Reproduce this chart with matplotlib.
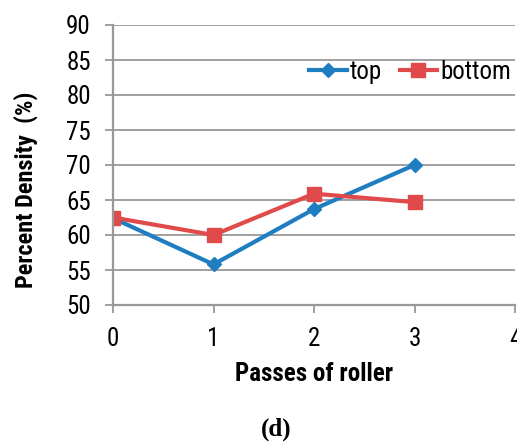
import matplotlib.pyplot as plt

passes = [0, 1, 2, 3]
top = [62.4, 55.8, 63.7, 70.0]
bottom = [62.5, 60.0, 65.9, 64.7]

font = 'Roboto Condensed'
grey = '#999999'

fig = plt.figure(figsize=(5.17, 4.42), dpi=100)
ax = fig.add_axes([113 / 517, 137 / 442, 402 / 517, 280 / 442])

ax.plot(passes, top, color='#1F7EC1', lw=3, marker='D', markersize=7.5, label='top')
ax.plot(passes, bottom, color='#E04A4A', lw=3, marker='s', markersize=10, label='bottom')

ax.set_xlim(0, 4)
ax.set_ylim(50, 90)
ax.set_xticks([0, 1, 2, 3, 4])
ax.set_yticks(range(50, 91, 5))
ax.grid(axis='y', color=grey, lw=1.3)
ax.set_axisbelow(True)
for s in ['top', 'right']:
    ax.spines[s].set_visible(False)
for s in ['left', 'bottom']:
    ax.spines[s].set_color(grey)
    ax.spines[s].set_linewidth(1.6)
ax.tick_params(colors=grey, length=6, width=1.3, labelcolor='black', labelsize=18, pad=10)
for lbl in ax.get_xticklabels() + ax.get_yticklabels():
    lbl.set_fontfamily(font)

fig.text(26 / 517, 1 - 190 / 442, 'Percent Density  (%)', rotation=90, ha='center', va='center',
         fontsize=17.5, fontweight='bold', family=font)
fig.text(314 / 517, 1 - 381 / 442, 'Passes of roller', ha='center', va='baseline',
         fontsize=18, fontweight='bold', family=font)

ax.legend(loc='center right', bbox_to_anchor=(0.99, 0.832), ncol=2, frameon=False,
          prop={'family': font, 'size': 18}, handlelength=1.5, handletextpad=0.12,
          columnspacing=0.7, borderpad=0, borderaxespad=0)

fig.text(276 / 517, 1 - 436 / 442, '(d)', ha='center', va='baseline', fontsize=18,
         fontweight='bold', family='Liberation Serif')

fig.savefig('out.png', dpi=100)
